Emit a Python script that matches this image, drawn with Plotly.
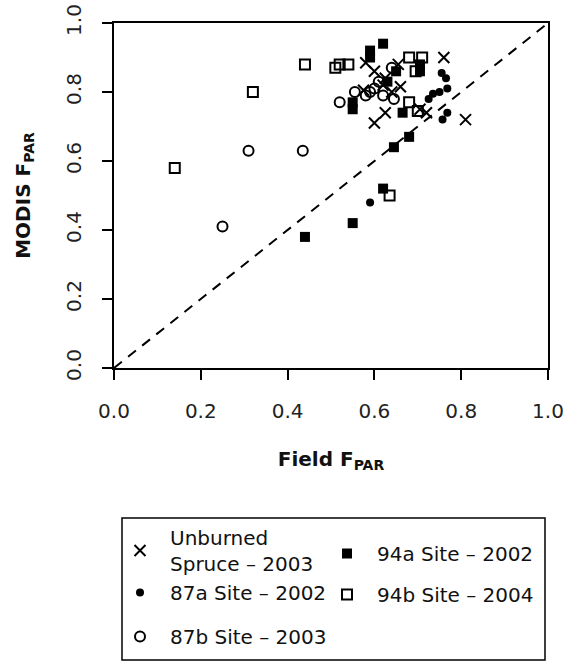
import plotly.graph_objects as go

# ---- data ----
unburned_x = [0.76, 0.81, 0.60, 0.625, 0.705, 0.72, 0.58, 0.60, 0.625, 0.655, 0.66, 0.575, 0.62, 0.64]
unburned_y = [0.90, 0.72, 0.71, 0.74, 0.75, 0.74, 0.885, 0.86, 0.84, 0.88, 0.815, 0.805, 0.82, 0.80]

s87a_x = [0.59, 0.755, 0.765, 0.768, 0.75, 0.735, 0.725, 0.768, 0.757]
s87a_y = [0.48, 0.855, 0.84, 0.81, 0.80, 0.795, 0.78, 0.74, 0.72]

s87b_x = [0.25, 0.31, 0.435, 0.52, 0.555, 0.58, 0.60, 0.61, 0.62, 0.645, 0.64, 0.59]
s87b_y = [0.41, 0.63, 0.63, 0.77, 0.80, 0.79, 0.81, 0.83, 0.79, 0.78, 0.87, 0.80]

s94a_x = [0.44, 0.55, 0.62, 0.645, 0.68, 0.665, 0.55, 0.55, 0.62, 0.59, 0.59, 0.65, 0.705, 0.705, 0.63]
s94a_y = [0.38, 0.42, 0.52, 0.64, 0.67, 0.74, 0.75, 0.77, 0.94, 0.92, 0.90, 0.86, 0.88, 0.86, 0.83]

s94b_x = [0.14, 0.32, 0.44, 0.51, 0.52, 0.54, 0.68, 0.71, 0.695, 0.68, 0.70, 0.635]
s94b_y = [0.58, 0.80, 0.88, 0.87, 0.88, 0.88, 0.90, 0.90, 0.86, 0.77, 0.745, 0.50]

line_x = [0, 1]
line_y = [0, 1]

tick_vals = [0.0, 0.2, 0.4, 0.6, 0.8, 1.0]
tick_text = ["0.0", "0.2", "0.4", "0.6", "0.8", "1.0"]

FONT = "DejaVu Sans"
W, H = 566, 663
L, R, T, B = 114, 18, 23, 295

fig = go.Figure()

fig.add_trace(go.Scatter(x=line_x, y=line_y, mode="lines",
                         line=dict(color="black", width=2, dash="10px,8px"),
                         showlegend=False, hoverinfo="skip"))

def add(x, y, name, symbol, size, legend, group, lw=2):
    fig.add_trace(go.Scatter(
        x=x, y=y, mode="markers", name=name, legend=legend, legendgroup=group,
        marker=dict(symbol=symbol, size=size, color="black",
                    line=dict(color="black", width=lw)),
    ))

add(unburned_x, unburned_y, "Unburned<br>Spruce – 2003", "x-thin", 11, "legend3", "a", 2)
add(s87a_x, s87a_y, "87a Site – 2002", "circle", 8, "legend", "b", 0)
add(s87b_x, s87b_y, "87b Site – 2003", "circle-open", 10, "legend", "c", 2)
add(s94a_x, s94a_y, "94a Site – 2002", "square", 10, "legend2", "d", 0)
add(s94b_x, s94b_y, "94b Site – 2004", "square-open", 10, "legend2", "e", 2)

def py2paper(py):
    return (H - B - py) / (H - B - T)

def px2paper(px):
    return (px - L) / (W - L - R)

axis_common = dict(range=[0, 1], tickvals=tick_vals, ticktext=tick_text,
                   showline=True, linecolor="black", linewidth=1.8, mirror=True,
                   ticks="outside", ticklen=10, tickwidth=1.5, tickcolor="black",
                   showgrid=False, zeroline=False, automargin=False,
                   tickfont=dict(family=FONT, size=20, color="#222"))

leg_common = dict(xanchor="left", yanchor="top", orientation="v",
                  bgcolor="rgba(0,0,0,0)", itemwidth=50,
                  font=dict(family=FONT, size=20, color="#111"), valign="middle")

fig.update_layout(
    width=W, height=H,
    margin=dict(l=L, r=R, t=T, b=B, autoexpand=False),
    paper_bgcolor="white", plot_bgcolor="white",
    xaxis=dict(**axis_common, ticklabelstandoff=14,
               title=dict(text="<b>Field F<sub>PAR</sub></b>", standoff=30,
                          font=dict(family=FONT, size=20, color="#111"))),
    yaxis=dict(**axis_common, tickangle=-90, ticklabelstandoff=13,
               title=dict(text="<b>MODIS F<sub>PAR</sub></b>", standoff=26,
                          font=dict(family=FONT, size=20, color="#111"))),
    legend3=dict(**leg_common, x=px2paper(110), y=py2paper(518), tracegroupgap=0),
    legend=dict(**leg_common, x=px2paper(110), y=py2paper(573), tracegroupgap=15),
    legend2=dict(**leg_common, x=px2paper(317), y=py2paper(534), tracegroupgap=12),
    shapes=[dict(type="rect", xref="paper", yref="paper",
                 x0=px2paper(122), x1=px2paper(545), y0=py2paper(518), y1=py2paper(660),
                 line=dict(color="black", width=1.5), fillcolor="rgba(0,0,0,0)")],
)

fig.write_html("out.html", config={"displayModeBar": False},
               post_script="document.body.style.margin='0';")
